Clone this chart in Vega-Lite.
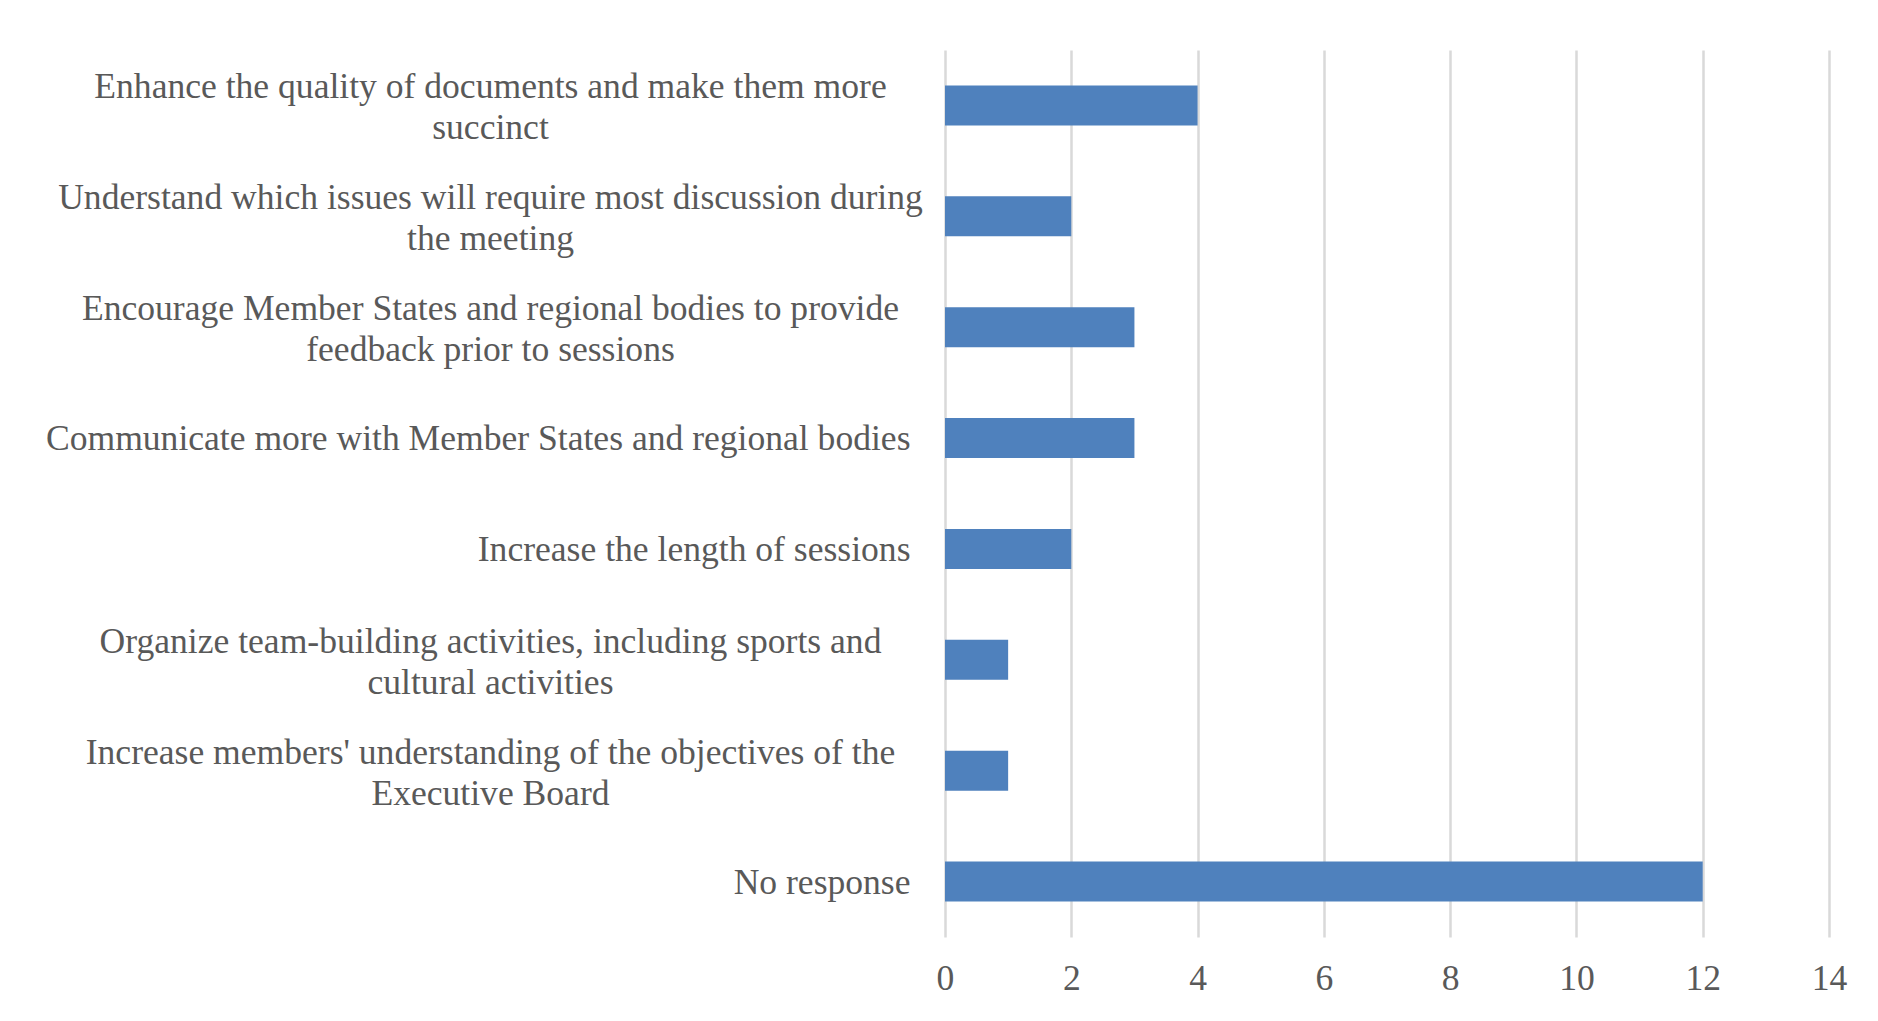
{
  "$schema": "https://vega.github.io/schema/vega-lite/v6.json",
  "autosize": {"type": "none"},
  "padding": {"left": 945, "top": 50, "right": 49, "bottom": 84},
  "width": 884,
  "height": 887,
  "background": "#ffffff",
  "data": {
    "values": [
      {"label": "Enhance the quality of documents and make them more|succinct", "count": 4},
      {"label": "Understand which issues will require most discussion during|the meeting", "count": 2},
      {"label": "Encourage Member States and regional bodies to provide|feedback prior to sessions", "count": 3},
      {"label": "Communicate more with Member States and regional bodies", "count": 3},
      {"label": "Increase the length of sessions", "count": 2},
      {"label": "Organize team-building activities, including sports and|cultural activities", "count": 1},
      {"label": "Increase members' understanding of the objectives of the|Executive Board", "count": 1},
      {"label": "No response", "count": 12}
    ]
  },
  "mark": {"type": "bar", "color": "#4f81bd"},
  "encoding": {
    "y": {
      "field": "label",
      "type": "nominal",
      "sort": null,
      "scale": {"paddingInner": 0.64, "paddingOuter": 0.32},
      "axis": {
        "title": null,
        "domain": false,
        "ticks": false,
        "grid": false,
        "labelExpr": "split(datum.value, '|')",
        "labelFont": "Liberation Serif",
        "labelFontSize": 35.6,
        "labelColor": "#595959",
        "labelLineHeight": 41,
        "labelLimit": 0,
        "labelBaseline": "middle",
        "labelAlign": {"condition": {"test": "length(split(datum.value, '|')) > 1", "value": "center"}, "value": "right"},
        "labelPadding": {"condition": {"test": "length(split(datum.value, '|')) > 1", "value": 455}, "value": 35},
        "labelOffset": {"condition": {"test": "length(split(datum.value, '|')) > 1", "value": -18}, "value": 1}
      }
    },
    "x": {
      "field": "count",
      "type": "quantitative",
      "scale": {"domain": [0, 14], "nice": false},
      "axis": {
        "title": null,
        "values": [0, 2, 4, 6, 8, 10, 12, 14],
        "domain": false,
        "ticks": false,
        "grid": true,
        "gridColor": "#d9d9d9",
        "gridWidth": 2.5,
        "labelFont": "Liberation Serif",
        "labelFontSize": 35.6,
        "labelColor": "#595959",
        "labelPadding": 24,
        "labelFlush": false
      }
    }
  },
  "config": {"view": {"stroke": null}}
}
